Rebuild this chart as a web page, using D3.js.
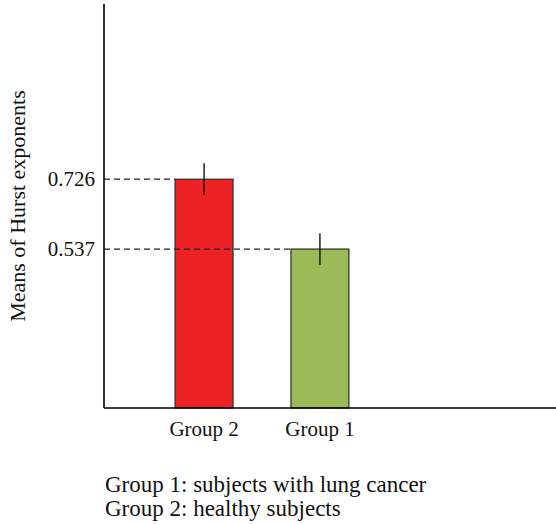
<!DOCTYPE html>
<html>
<head>
<meta charset="utf-8">
<script src="https://cdn.jsdelivr.net/npm/d3@7"></script>
<style>
  html, body { margin: 0; padding: 0; background: #fff; }
  svg text { font-family: "Liberation Serif", "DejaVu Serif", serif; fill: #111; }
</style>
</head>
<body>
<svg id="chart" width="556" height="524"></svg>
<script>
// Mean Hurst exponents per group, with error half-widths
const groups = ["Group 2", "Group 1"];
const means = [0.726, 0.537];
const errors = [0.043, 0.043];
const barColors = ["#ED2224", "#9BBB59"];
const tickValues = [0.537, 0.726];
const notes = ["Group 1: subjects with lung cancer", "Group 2: healthy subjects"];

const svg = d3.select("#chart");
const plotLeft = 104, plotRight = 556, plotTop = 4, plotBottom = 408;

const y = d3.scaleLinear().domain([0.107, 1.2]).range([plotBottom, plotTop]);
const x = d3.scaleBand().domain(groups).range([145, 379]).paddingInner(0.5).paddingOuter(0.26);

// Bars
svg.append("g").selectAll("rect").data(means).join("rect")
  .attr("x", (d, i) => x(groups[i]))
  .attr("width", x.bandwidth())
  .attr("y", d => y(d))
  .attr("height", d => plotBottom - y(d))
  .attr("fill", (d, i) => barColors[i])
  .attr("stroke", "#2a2a2a").attr("stroke-width", 1.2);

// Dashed reference lines from the axis to each bar top (drawn over other bars)
svg.append("g").selectAll("line").data(means).join("line")
  .attr("x1", plotLeft).attr("x2", (d, i) => x(groups[i]))
  .attr("y1", d => y(d)).attr("y2", d => y(d))
  .attr("stroke", "#222").attr("stroke-width", 1.3)
  .attr("stroke-dasharray", "6,4");

// Error bars
svg.append("g").selectAll("line").data(means).join("line")
  .attr("x1", (d, i) => x(groups[i]) + x.bandwidth() / 2)
  .attr("x2", (d, i) => x(groups[i]) + x.bandwidth() / 2)
  .attr("y1", (d, i) => y(d + errors[i]))
  .attr("y2", (d, i) => y(d - errors[i]))
  .attr("stroke", "#111").attr("stroke-width", 1.4);

// Y axis with the two labelled values
const yAxis = d3.axisLeft(y).tickValues(tickValues).tickFormat(d3.format(".3f")).tickSize(0).tickPadding(9);
const gy = svg.append("g").attr("transform", `translate(${plotLeft},0)`).call(yAxis);
gy.select(".domain").remove();
gy.selectAll("text").style("font-size", "21px").attr("fill", "#111");
svg.append("line").attr("x1", plotLeft).attr("x2", plotLeft).attr("y1", plotTop).attr("y2", plotBottom)
  .attr("stroke", "#000").attr("stroke-width", 1.6);

// X axis with group names
const xAxis = d3.axisBottom(x).tickSize(0).tickPadding(13);
const gx = svg.append("g").attr("transform", `translate(0,${plotBottom})`).call(xAxis);
gx.select(".domain").remove();
gx.selectAll("text").style("font-size", "21px").attr("fill", "#111");
svg.append("line").attr("x1", plotLeft).attr("x2", plotRight).attr("y1", plotBottom).attr("y2", plotBottom)
  .attr("stroke", "#000").attr("stroke-width", 1.6);

// Y axis title
svg.append("text")
  .attr("transform", "translate(25,206) rotate(-90)")
  .attr("text-anchor", "middle")
  .style("font-size", "22px")
  .text("Means of Hurst exponents");

// Group notes below the chart
svg.append("g").selectAll("text").data(notes).join("text")
  .attr("x", 105).attr("y", (d, i) => 492 + i * 23.5)
  .style("font-size", "23px")
  .text(d => d);
</script>
</body>
</html>
